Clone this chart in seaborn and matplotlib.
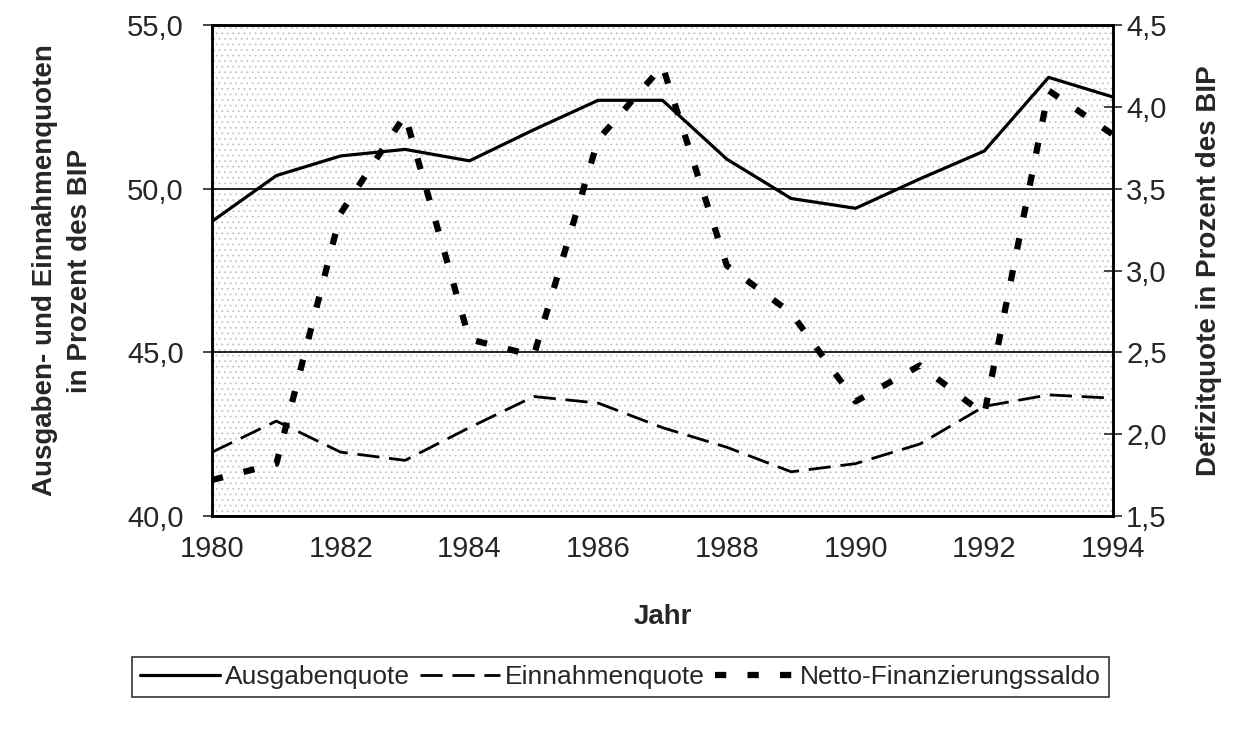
import numpy as np
import pandas as pd
import matplotlib
matplotlib.use("Agg")
import matplotlib.pyplot as plt
from matplotlib.ticker import FuncFormatter
from matplotlib.patches import Rectangle
import seaborn as sns

# Daten
jahre = list(range(1980, 1995))
ausgabenquote = [49.0, 50.4, 51.0, 51.2, 50.85, 51.8, 52.7, 52.7, 50.9, 49.7, 49.4, 50.3, 51.15, 53.4, 52.8]
einnahmenquote = [41.95, 42.9, 41.95, 41.7, 42.7, 43.65, 43.45, 42.7, 42.1, 41.35, 41.6, 42.2, 43.35, 43.7, 43.6]
netto_saldo = [1.72, 1.82, 3.35, 3.95, 2.58, 2.48, 3.8, 4.25, 3.03, 2.74, 2.2, 2.42, 2.12, 4.1, 3.83]

x_ticks = list(range(1980, 1995, 2))
links_ticks = [40, 45, 50, 55]
rechts_ticks = [1.5, 2.0, 2.5, 3.0, 3.5, 4.0, 4.5]

df = pd.DataFrame({"Jahr": jahre, "Ausgabenquote": ausgabenquote,
                   "Einnahmenquote": einnahmenquote, "Netto": netto_saldo})

sns.set_style("white")
plt.rcParams["font.family"] = ["Liberation Sans", "DejaVu Sans"]
plt.rcParams["hatch.color"] = "#c4c4c4"
plt.rcParams["hatch.linewidth"] = 0.6

fig = plt.figure(figsize=(12.41, 7.33), dpi=100)
ax = fig.add_axes([212 / 1241, 1 - 516 / 733, (1113 - 212) / 1241, (516 - 25) / 733])
ax2 = ax.twinx()

# Rasterhintergrund der Vorlage
ax.add_patch(Rectangle((0, 0), 1, 1, transform=ax.transAxes, facecolor="white",
                       hatch="...", edgecolor="#c4c4c4", lw=0, zorder=0))

sns.lineplot(data=df, x="Jahr", y="Ausgabenquote", ax=ax, color="black", lw=2.3,
             label="Ausgabenquote", legend=False, zorder=3)
sns.lineplot(data=df, x="Jahr", y="Einnahmenquote", ax=ax, color="black", lw=2.0,
             linestyle=(0, (8, 3.5)), label="Einnahmenquote", legend=False, zorder=3)
sns.lineplot(data=df, x="Jahr", y="Netto", ax=ax2, color="black", lw=4.5,
             linestyle=(0, (1.8, 3.4)), label="Netto-Finanzierungssaldo", legend=False,
             zorder=3)
for ln in ax2.get_lines():
    ln.set_dash_capstyle("butt")

komma = FuncFormatter(lambda v, p: f"{v:.1f}".replace(".", ","))

ax.set_xlim(1980, 1994)
ax.set_ylim(40, 55)
ax2.set_ylim(1.5, 4.5)
ax.set_xticks(x_ticks)
ax.set_yticks(links_ticks)
ax2.set_yticks(rechts_ticks)
ax.yaxis.set_major_formatter(komma)
ax2.yaxis.set_major_formatter(komma)

ax.grid(axis="y", color="black", lw=1.2)
ax.grid(axis="x", visible=False)
ax2.grid(False)

for a in (ax, ax2):
    for s in a.spines.values():
        s.set_color("black")
        s.set_linewidth(1.8)
        s.set_visible(True)

ax.tick_params(axis="x", direction="in", length=6, width=1.2, labelsize=21, pad=14)
ax.tick_params(axis="y", direction="inout", length=13, width=1.2, labelsize=21, pad=14, left=True)
ax2.tick_params(axis="y", direction="inout", length=13, width=1.2, labelsize=21, pad=3, right=True)

ax.set_xlabel("Jahr", fontsize=20, fontweight="bold", labelpad=29)
ax.set_ylabel("Ausgaben- und Einnahmenquoten\nin Prozent des BIP", fontsize=20,
              fontweight="bold", labelpad=24, linespacing=1.45)
ax2.set_ylabel("Defizitquote in Prozent des BIP", fontsize=20, fontweight="bold",
               labelpad=21)

handles = ax.get_lines() + ax2.get_lines()
leg = fig.legend(handles=handles, labels=[h.get_label() for h in handles],
                 loc="center", bbox_to_anchor=(0.5, 1 - 677 / 733), ncol=3,
                 fontsize=19, frameon=True, fancybox=False, handlelength=3.0,
                 handletextpad=0.2, columnspacing=0.4, borderpad=0.3,
                 borderaxespad=0)
leg.get_frame().set_edgecolor("black")
leg.get_frame().set_linewidth(1.2)

fig.savefig("out.png", dpi=100)
